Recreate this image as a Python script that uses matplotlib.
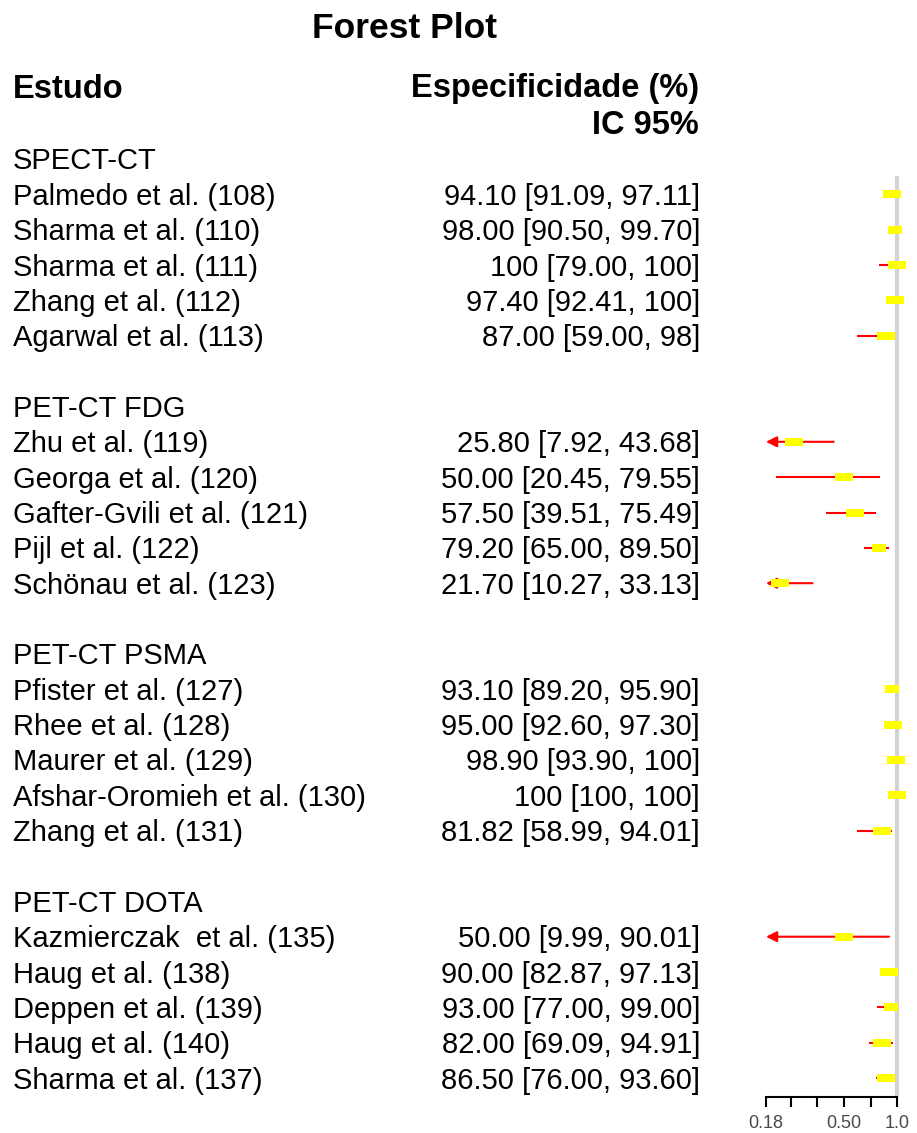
"""
Forest plot of specificity (%) with 95% CI per imaging modality.
"""

import matplotlib
matplotlib.use("Agg")
import matplotlib.pyplot as plt
from matplotlib.path import Path
from matplotlib.ticker import NullLocator
from matplotlib.transforms import blended_transform_factory


GROUPS = ["SPECT-CT", "PET-CT FDG", "PET-CT PSMA", "PET-CT DOTA"]

STUDIES = [
    ["Palmedo et al. (108)", "Sharma et al. (110)", "Sharma et al. (111)",
     "Zhang et al. (112)", "Agarwal et al. (113)"],
    ["Zhu et al. (119)", "Georga et al. (120)", "Gafter-Gvili et al. (121)",
     "Pijl et al. (122)", "Schönau et al. (123)"],
    ["Pfister et al. (127)", "Rhee et al. (128)", "Maurer et al. (129)",
     "Afshar-Oromieh et al. (130)", "Zhang et al. (131)"],
    ["Kazmierczak  et al. (135)", "Haug et al. (138)", "Deppen et al. (139)",
     "Haug et al. (140)", "Sharma et al. (137)"],
]

ESTIMATE = [
    [94.10, 98.00, 100, 97.40, 87.00],
    [25.80, 50.00, 57.50, 79.20, 21.70],
    [93.10, 95.00, 98.90, 100, 81.82],
    [50.00, 90.00, 93.00, 82.00, 86.50],
]
LOWER = [
    [91.09, 90.50, 79.00, 92.41, 59.00],
    [7.92, 20.45, 39.51, 65.00, 10.27],
    [89.20, 92.60, 93.90, 100, 58.99],
    [9.99, 82.87, 77.00, 69.09, 76.00],
]
UPPER = [
    [97.11, 99.70, 100, 100, 98],
    [43.68, 79.55, 75.49, 89.50, 33.13],
    [95.90, 97.30, 100, 100, 94.01],
    [90.01, 97.13, 99.00, 94.91, 93.60],
]
CI_TEXT = [
    ["94.10 [91.09, 97.11]", "98.00 [90.50, 99.70]", "100 [79.00, 100]",
     "97.40 [92.41, 100]", "87.00 [59.00, 98]"],
    ["25.80 [7.92, 43.68]", "50.00 [20.45, 79.55]", "57.50 [39.51, 75.49]",
     "79.20 [65.00, 89.50]", "21.70 [10.27, 33.13]"],
    ["93.10 [89.20, 95.90]", "95.00 [92.60, 97.30]", "98.90 [93.90, 100]",
     "100 [100, 100]", "81.82 [58.99, 94.01]"],
    ["50.00 [9.99, 90.01]", "90.00 [82.87, 97.13]", "93.00 [77.00, 99.00]",
     "82.00 [69.09, 94.91]", "86.50 [76.00, 93.60]"],
]
# relative box sizes (study weights)
WEIGHTS = [
    [1.0, 0.78, 1.0, 1.0, 1.0],
    [1.0, 1.0, 1.0, 0.78, 1.0],
    [0.82, 1.0, 1.0, 1.0, 1.0],
    [1.0, 1.0, 0.82, 1.0, 1.0],
]

X_TICKS = [0.18, 0.25, 0.35, 0.50, 0.71, 1.0]
X_TICK_LABELS = ["0.18", "", "", "0.50", "", "1.0"]
XMIN, XMAX = 0.18, 1.0

FIG_W, FIG_H = 917, 1133
ROW0_PX, ROW_PX = 159, 35.35   # centre of first row / row pitch in pixels
AXIS_PX = 1097                 # y pixel of the x axis line
TEXT_DY = 0.07                 # text sits a touch lower than the marks


def px_to_row(y_px):
    return (y_px - ROW0_PX) / ROW_PX


def main():
    plt.rcParams["font.family"] = ["Liberation Sans", "DejaVu Sans"]

    fig = plt.figure(figsize=(FIG_W / 100, FIG_H / 100), dpi=100)
    left, right = 766 / FIG_W, 897 / FIG_W
    ax = fig.add_axes([left, (FIG_H - AXIS_PX) / FIG_H, right - left, AXIS_PX / FIG_H])
    ax.set_xscale("log")
    ax.set_xlim(XMIN, XMAX)
    y_top, y_bottom = px_to_row(0), px_to_row(AXIS_PX)
    ax.set_ylim(y_bottom, y_top)

    for side in ("top", "left", "right"):
        ax.spines[side].set_visible(False)
    ax.spines["bottom"].set_linewidth(1.5)
    ax.set_yticks([])
    ax.xaxis.set_minor_locator(NullLocator())
    ax.set_xticks(X_TICKS)
    ax.set_xticklabels(X_TICK_LABELS)
    ax.tick_params(axis="x", length=7, width=1.5, direction="out",
                   labelsize=13, labelcolor="#4a4a4a", pad=6)
    ax.patch.set_visible(False)

    # reference line at 1
    ax.vlines(1.0, px_to_row(176), y_bottom, color="#d3d3d3", lw=3,
              zorder=1, clip_on=False)

    trans = blended_transform_factory(fig.transFigure, ax.transData)
    text_kw = dict(fontsize=21, va="center", transform=trans)
    head_kw = {**text_kw, "fontsize": 23.5, "fontweight": "bold"}

    fig.text(405 / FIG_W, 1 - 29 / FIG_H, "Forest Plot", fontsize=25.5,
             fontweight="bold", ha="center", va="center")
    fig.text(13 / FIG_W, px_to_row(89), "Estudo", ha="left", **head_kw)
    fig.text(699 / FIG_W, px_to_row(89), "Especificidade (%)", ha="right", **head_kw)
    fig.text(699 / FIG_W, px_to_row(125), "IC 95%", ha="right", **head_kw)

    row = 0
    for g, group in enumerate(GROUPS):
        fig.text(13 / FIG_W, row + TEXT_DY, group, ha="left", **text_kw)
        row += 1
        for i, study in enumerate(STUDIES[g]):
            est = ESTIMATE[g][i] / 100
            lo = LOWER[g][i] / 100
            hi = min(UPPER[g][i] / 100, XMAX)
            fig.text(13 / FIG_W, row + TEXT_DY, study, ha="left", **text_kw)
            fig.text(700 / FIG_W, row + TEXT_DY, CI_TEXT[g][i], ha="right", **text_kw)

            if lo < XMIN:
                ax.annotate("", xy=(XMIN, row), xytext=(hi, row),
                            arrowprops=dict(arrowstyle="-|>", color="red", lw=1.5,
                                            mutation_scale=16, shrinkA=0, shrinkB=0),
                            zorder=2, annotation_clip=False)
            elif hi > lo:
                ax.plot([lo, hi], [row, row], color="red", lw=1.5,
                        solid_capstyle="butt", zorder=2, clip_on=False)

            w = WEIGHTS[g][i]
            h = 0.44 / w
            box = Path([(-1, -h), (1, -h), (1, h), (-1, h), (-1, -h)])
            ax.plot([est], [row], marker=box, markersize=12.3 * w,
                    color="yellow", markeredgewidth=0, linestyle="none",
                    zorder=3, clip_on=False)
            row += 1
        row += 1

    fig.savefig("out.png", dpi=100)
    plt.close(fig)


if __name__ == "__main__":
    main()
